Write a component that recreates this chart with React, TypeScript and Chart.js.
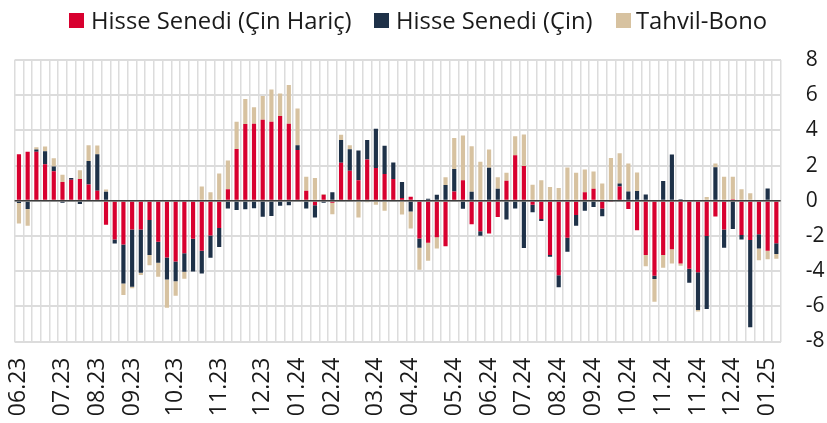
import React, { useEffect, useRef } from "react";
import { Chart, registerables } from "chart.js";

Chart.register(...registerables);

const seriesNames = ["Hisse Senedi (Çin Hariç)", "Hisse Senedi (Çin)", "Tahvil-Bono"];
const seriesColors = ["#d8002f", "#1e3148", "#d7c2a0"];

const exChina = [
  2.65, 2.78, 2.78, 2.08, 1.67, 1.06, 1.19, 1.23, 0.93, 0.57,
  -1.36, -2.2, -2.48, -1.63, -1.63, -1.1, -2.33, -3.22, -3.45, -2.99,
  -2.16, -2.84, -1.97, -1.55, 0.66, 2.94, 4.36, 4.38, 4.6, 4.49,
  4.81, 4.38, 2.88, 0.57, -0.25, 0.34, -0.11, 2.16, 1.7, 1.16,
  2.35, 1.86, 1.52, 1.23, 0.15, 0.23, -2.14, -2.39, -2.08, -2.58,
  0.53, 1.17, -1.34, -1.74, -1.86, -0.93, 1.14, 2.59, 1.97, -0.23,
  -1.04, -3.09, -4.24, -2.1, -0.81, 0.49, 0.68, -0.44, -0.04, 0.81,
  -0.47, -1.67, -3.09, -4.26, -3.09, -2.75, -3.56, -3.86, -4.07, -2.0,
  -0.89, -1.63, 0.08, -1.95, -2.23, -1.91, -2.84, -2.42,
];

const china = [
  -0.13, -0.47, 0.13, 0.74, 0.27, -0.11, 0.1, -0.19, 1.33, 2.08,
  0.51, -0.23, -2.22, -3.26, -2.46, -1.99, -1.19, -1.25, -1.12, -1.04,
  -1.86, -1.29, -1.27, -1.08, -0.44, -0.53, -0.49, -0.42, -0.91, -0.87,
  -0.28, -0.25, 0.28, -0.44, -0.7, -0.11, 0.49, 1.29, 1.23, 1.7,
  1.1, 2.23, 1.61, 0.95, 0.91, -0.61, -0.53, 0.11, 0.34, 0.89,
  1.27, -0.45, 0.51, -0.25, 1.87, 0.68, -1.06, -0.44, -2.69, -0.42,
  -0.11, -0.09, -0.68, -0.8, -0.61, -0.57, -0.36, -0.44, 0.06, 0.17,
  0.53, 0.55, 0.36, -0.19, 1.12, 2.63, 0.09, -0.8, -2.14, -4.15,
  1.91, -1.04, -1.61, -0.25, -4.96, -0.81, 0.7, -0.61,
];

const bonds = [
  -1.17, -0.95, 0.13, 0.27, 0.47, 0.42, -0.06, 0.51, 0.89, 0.49,
  0.13, 0, -0.66, -0.09, -0.13, -0.57, -0.8, -1.61, -0.83, -0.4,
  0, 0.81, 0.49, 1.55, 1.63, 1.55, 1.42, 0.93, 1.36, 1.84,
  1.29, 2.2, 2.08, 0.8, 1.29, 0.04, -0.66, 0.3, 0.23, -0.95,
  -0.08, -0.23, -0.57, 0, -0.78, -0.97, -1.25, -1.02, -0.63, 0.45,
  1.76, 2.54, 2.59, 2.22, 1.04, 0.66, 0.45, 1.08, 1.8, 0.91,
  1.16, 0.78, 0.72, 1.89, 1.59, 1.29, 0.98, 0.98, 2.37, 1.72,
  1.59, 1.06, -0.64, -1.29, -0.72, -0.81, -0.13, 0, -0.09, 0.21,
  0.21, 1.36, 1.29, 0.66, 0.42, -0.66, -0.49, -0.27,
];

const monthLabels = [
  "06.23", "07.23", "08.23", "09.23", "10.23", "11.23", "12.23",
  "01.24", "02.24", "03.24", "04.24", "05.24", "06.24", "07.24",
  "08.24", "09.24", "10.24", "11.24", "11.24", "12.24", "01.25",
];
// week (bar number, 1-based) on which each month label sits
const monthLabelWeeks = [1, 6, 10, 14, 19, 24, 29, 33, 37, 42, 46, 51, 55, 59, 63, 67, 71, 75, 79, 83, 87];

const yTicks = [8, 6, 4, 2, 0, -2, -4, -6, -8];

const categories = exChina.map((_, i) => {
  const j = monthLabelWeeks.indexOf(i + 1);
  return j >= 0 ? monthLabels[j] : "";
});

const FONT = "'Open Sans', 'Noto Sans', sans-serif";

const zeroLinePlugin = {
  id: "zeroLine",
  afterDatasetsDraw(chart: any) {
    const y = chart.scales.y.getPixelForValue(0);
    const { left, right } = chart.chartArea;
    const ctx = chart.ctx;
    ctx.save();
    ctx.strokeStyle = "#3c3c3c";
    ctx.lineWidth = 1.5;
    ctx.beginPath();
    ctx.moveTo(left, y);
    ctx.lineTo(right, y);
    ctx.stroke();
    ctx.restore();
  },
};

export default function App() {
  const canvasRef = useRef<HTMLCanvasElement | null>(null);

  useEffect(() => {
    if (!canvasRef.current) return;
    const series = [exChina, china, bonds];
    const chart = new Chart(canvasRef.current, {
      type: "bar",
      data: {
        labels: categories,
        datasets: series.map((d, i) => ({
          label: seriesNames[i],
          data: d,
          backgroundColor: seriesColors[i],
          borderWidth: 0,
          categoryPercentage: 1,
          barPercentage: 0.48,
          stack: "s",
        })),
      },
      options: {
        animation: false,
        responsive: true,
        maintainAspectRatio: false,
        layout: { padding: { left: 14.6, top: 60, right: 0, bottom: 0 } },
        plugins: {
          legend: { display: false },
          tooltip: { enabled: false },
        },
        scales: {
          x: {
            stacked: true,
            grid: { display: true, offset: true, color: "#dcdcdc", lineWidth: 1.5, drawTicks: false },
            border: { display: false },
            ticks: {
              autoSkip: false,
              minRotation: 90,
              maxRotation: 90,
              padding: 16,
              color: "#1a1a1a",
              font: { family: FONT, size: 23 },
            },
            afterFit: (scale: any) => {
              scale.height = 81.5;
            },
          },
          y: {
            stacked: true,
            position: "right",
            min: -8,
            max: 8,
            afterBuildTicks: (scale: any) => {
              scale.ticks = yTicks.map((v) => ({ value: v }));
            },
            grid: { color: "#dcdcdc", lineWidth: 2, drawTicks: false },
            border: { display: false },
            ticks: {
              padding: 25,
              color: "#1a1a1a",
              font: { family: FONT, size: 21 },
            },
            afterFit: (scale: any) => {
              scale.width = 46.3;
            },
          },
        },
      },
      plugins: [zeroLinePlugin],
    });
    return () => chart.destroy();
  }, []);

  const legendItems = [
    { box: 69, text: 91 },
    { box: 374, text: 396 },
    { box: 616, text: 636 },
  ];

  return (
    <div style={{ position: "fixed", left: 0, top: 0, width: 827, height: 423, background: "#fff" }}>
      <canvas ref={canvasRef} width={827} height={423} />
      {legendItems.map((it, i) => (
        <React.Fragment key={i}>
          <div
            style={{
              position: "absolute",
              left: it.box,
              top: 13,
              width: 15,
              height: 15,
              background: seriesColors[i],
            }}
          />
          <div
            style={{
              position: "absolute",
              left: it.text,
              top: 5,
              fontFamily: FONT,
              fontSize: 23.8,
              lineHeight: "30px",
              color: "#1a1a1a",
              whiteSpace: "nowrap",
            }}
          >
            {seriesNames[i]}
          </div>
        </React.Fragment>
      ))}
    </div>
  );
}
